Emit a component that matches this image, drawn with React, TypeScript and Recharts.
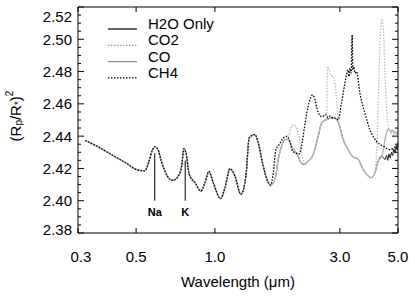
import React from 'react';
import { LineChart, Line, XAxis, YAxis, ReferenceLine, ReferenceDot, Legend } from 'recharts';

const FONT = '"Liberation Sans", Arial, Helvetica, sans-serif';

// Axis tick labels
const xTicks = [0.3, 0.5, 1.0, 3.0, 5.0];
const yMajorTicks = [2.38, 2.4, 2.42, 2.44, 2.46, 2.48, 2.5, 2.52];
const yMinorPerMajor = 4;

// Part of the spectrum shared by every model (microns, (Rp/R*)^2)
const sharedWavelength = [
  0.32, 0.358, 0.402, 0.452, 0.508, 0.539, 0.558, 0.575, 0.588, 0.606, 0.624, 0.658,
  0.689, 0.725, 0.746, 0.7615, 0.775, 0.798, 0.839, 0.884, 0.916, 0.949, 0.985, 1.051,
  1.092, 1.141, 1.192, 1.256, 1.313, 1.352, 1.421, 1.463, 1.529, 1.598, 1.632,
];
const sharedValue = [
  2.4373, 2.4334, 2.4286, 2.4239, 2.419, 2.4185, 2.4236, 2.4307, 2.4334, 2.4317, 2.4245, 2.4153,
  2.4126, 2.4153, 2.4214, 2.4322, 2.4297, 2.4163, 2.4112, 2.406, 2.4112, 2.4181, 2.4112, 2.4013,
  2.408, 2.4198, 2.4153, 2.404, 2.4153, 2.439, 2.441, 2.4359, 2.4214, 2.4112, 2.4097,
];

// H2O-only continuation (also the CO baseline up to 4.33 micron)
const waterWavelength = [
  1.694, 1.745, 1.797, 1.85, 1.905, 1.962, 2.07, 2.142, 2.2, 2.27, 2.372, 2.479, 2.555, 2.669,
  2.75, 2.85, 2.914, 2.98, 3.088, 3.228, 3.342, 3.524, 3.68, 3.846, 3.96, 4.08, 4.2, 4.33,
];
const waterValue = [
  2.4132, 2.4256, 2.4338, 2.4379, 2.4379, 2.4338, 2.428, 2.4231, 2.4225, 2.4245, 2.4286, 2.4399, 2.4482, 2.4502,
  2.451, 2.4515, 2.4502, 2.4472, 2.4379, 2.4317, 2.4276, 2.4256, 2.4194, 2.4153, 2.4143, 2.4173, 2.4245, 2.4276,
];
const h2oTailWavelength = [4.4, 4.46, 4.52, 4.57, 4.62, 4.67, 4.72, 4.77, 4.82, 4.87, 4.92, 4.96, 5.0];
const h2oTailValue = [2.4265, 2.4255, 2.428, 2.425, 2.429, 2.4265, 2.43, 2.428, 2.432, 2.4295, 2.434, 2.4315, 2.436];

const coTailWavelength = [4.4, 4.46, 4.52, 4.58, 4.64, 4.7, 4.76, 4.82, 4.88, 4.94, 5.0];
const coTailValue = [2.432, 2.438, 2.442, 2.4445, 2.444, 2.4425, 2.444, 2.442, 2.443, 2.441, 2.443];

const co2Wavelength = [
  1.694, 1.745, 1.797, 1.85, 1.905, 1.95, 2.0, 2.05, 2.1, 2.142, 2.2, 2.27, 2.372, 2.479, 2.555,
  2.62, 2.669, 2.69, 2.73, 2.78, 2.83, 2.89, 2.93, 2.957, 2.98, 3.088, 3.228, 3.342, 3.524, 3.68,
  3.846, 3.96, 4.08, 4.14, 4.2, 4.27, 4.34, 4.4, 4.46, 4.53, 4.6, 4.7, 4.8, 4.9, 5.0,
];
const co2Value = [
  2.4132, 2.4256, 2.4338, 2.4379, 2.44, 2.445, 2.447, 2.4455, 2.438, 2.43, 2.4235, 2.4245, 2.4286, 2.4399, 2.4482,
  2.45, 2.451, 2.4832, 2.481, 2.4775, 2.477, 2.4688, 2.458, 2.452, 2.4472, 2.4379, 2.4317, 2.4276, 2.4256, 2.4194,
  2.4153, 2.4143, 2.4173, 2.429, 2.458, 2.499, 2.5125, 2.506, 2.478, 2.456, 2.445, 2.442, 2.441, 2.442, 2.441,
];

const ch4Wavelength = [
  1.67, 1.709, 1.76, 1.823, 1.877, 1.933, 1.979, 2.04, 2.1, 2.14, 2.2, 2.23, 2.305, 2.36, 2.41,
  2.45, 2.51, 2.57, 2.64, 2.7, 2.76, 2.83, 2.9, 2.957, 3.044, 3.135, 3.18, 3.228, 3.25, 3.28,
  3.31, 3.342, 3.36, 3.39, 3.42, 3.474, 3.576, 3.737, 3.905, 4.14, 4.39, 4.66, 4.94, 5.0,
];
const ch4Value = [
  2.4173, 2.4317, 2.4348, 2.4389, 2.4399, 2.4368, 2.4307, 2.4295, 2.429, 2.4338, 2.446, 2.452, 2.4626, 2.4655, 2.4626,
  2.4574, 2.453, 2.452, 2.4535, 2.4515, 2.4525, 2.451, 2.4512, 2.4502, 2.4606, 2.4729, 2.478, 2.4811, 2.477, 2.482,
  2.479, 2.5027, 2.481, 2.483, 2.479, 2.48, 2.4667, 2.4544, 2.4441, 2.4368, 2.4338, 2.4317, 2.4338, 2.4345,
];

// Atomic line markers
const markerNames = ['Na', 'K'];
const markerWavelength = [0.589, 0.77];
const markerTop = [2.4294, 2.4249];
const markerBase = 2.4;

const seriesNames = ['H2O Only', 'CO2', 'CO', 'CH4'];

type Pt = { wl: number; v: number };
const toPoints = (wl: number[], val: number[]): Pt[] => wl.map((w, i) => ({ wl: w, v: val[i] }));

const h2oData = toPoints(
  [...sharedWavelength, ...waterWavelength, ...h2oTailWavelength],
  [...sharedValue, ...waterValue, ...h2oTailValue]
);
const coData = toPoints(
  [...sharedWavelength, ...waterWavelength, ...coTailWavelength],
  [...sharedValue, ...waterValue, ...coTailValue]
);
const co2Data = toPoints([...sharedWavelength, ...co2Wavelength], [...sharedValue, ...co2Value]);
const ch4Data = toPoints([...sharedWavelength, ...ch4Wavelength], [...sharedValue, ...ch4Value]);

const yTicks: number[] = [];
for (let i = 0; i < yMajorTicks.length - 1; i++) {
  const a = yMajorTicks[i];
  const b = yMajorTicks[i + 1];
  for (let k = 0; k < yMinorPerMajor; k++) yTicks.push(+(a + ((b - a) * k) / yMinorPerMajor).toFixed(4));
}
yTicks.push(yMajorTicks[yMajorTicks.length - 1]);

const isMajorY = (v: number) => yMajorTicks.some((t) => Math.abs(t - v) < 1e-6);

const styles = {
  h2o: { stroke: '#111111', width: 1, dash: undefined as string | undefined, legendStroke: '#555555', legendWidth: 1.8 },
  co2: { stroke: '#bdbdbd', width: 1.3, dash: '1.5 1.5', legendStroke: '#9a9a9a', legendWidth: 1.2 },
  co: { stroke: '#b4b4b4', width: 1.4, dash: undefined as string | undefined, legendStroke: '#8c8c8c', legendWidth: 1.2 },
  ch4: { stroke: '#000000', width: 1.3, dash: '1.5 1.5', legendStroke: '#000000', legendWidth: 1.2 },
};
const legendStyles = [styles.h2o, styles.co2, styles.co, styles.ch4];

function LeftTick(props: any) {
  const { x, y, payload } = props;
  const v = payload.value as number;
  const major = isMajorY(v);
  let shift = 0;
  if (Math.abs(v - 2.52) < 1e-6) shift = 9.5;
  if (Math.abs(v - 2.38) < 1e-6) shift = -4;
  return (
    <g>
      <line x1={x} x2={x + (major ? 6 : 3)} y1={y} y2={y} stroke="#000" strokeWidth={1} />
      {major && (
        <text x={x - 6} y={y + shift} textAnchor="end" dominantBaseline="central" fontSize={15} fontFamily={FONT} fill="#000">
          {v.toFixed(2)}
        </text>
      )}
    </g>
  );
}

function RightTick(props: any) {
  const { x, y, payload } = props;
  const major = isMajorY(payload.value);
  return <line x1={x} x2={x - (major ? 6 : 3)} y1={y} y2={y} stroke="#000" strokeWidth={1} />;
}

function BottomTick(props: any) {
  const { x, y, payload } = props;
  const v = payload.value as number;
  const dx = Math.abs(v - 0.3) < 1e-6 ? 3 : 0;
  return (
    <g>
      <line x1={x} x2={x} y1={y} y2={y - 5} stroke="#000" strokeWidth={1} />
      <text x={x + dx} y={y + 23} textAnchor="middle" dominantBaseline="central" fontSize={15} fontFamily={FONT} fill="#000">
        {v.toFixed(1)}
      </text>
    </g>
  );
}

function TopTick(props: any) {
  const { x, y } = props;
  return <line x1={x} x2={x} y1={y} y2={y + 5} stroke="#000" strokeWidth={1} />;
}

function YLabel() {
  return (
    <text
      x={15}
      y={116}
      transform="rotate(-90, 15, 116)"
      textAnchor="middle"
      dominantBaseline="central"
      fontSize={15}
      fontFamily={FONT}
      fill="#000"
    >
      (R<tspan fontSize={10} dy={3}>p</tspan>
      <tspan dy={-3}>/R</tspan>
      <tspan fontSize={10} dy={3}>*</tspan>
      <tspan dy={-3}>)</tspan>
      <tspan fontSize={10} dy={-6}>2</tspan>
    </text>
  );
}

function LegendContent() {
  return (
    <svg width={130} height={75} style={{ display: 'block', overflow: 'visible' }}>
      {seriesNames.map((name, i) => {
        const s = legendStyles[i];
        const yy = 19 + i * 16.3;
        return (
          <g key={name}>
            <line x1={8} x2={37} y1={yy} y2={yy} stroke={s.legendStroke} strokeWidth={s.legendWidth} strokeDasharray={s.dash} />
            <text x={48} y={yy} fontSize={15} fontFamily={FONT} fill="#000">
              {name}
            </text>
          </g>
        );
      })}
    </svg>
  );
}

export default function App() {
  return (
    <div style={{ position: 'absolute', left: 0, top: 0, width: 415, height: 301, background: '#fff' }}>
      <LineChart width={415} height={301} margin={{ top: 0, right: 0, bottom: 0, left: 0 }}>
        <XAxis
          dataKey="wl"
          type="number"
          scale="log"
          domain={[0.3, 5]}
          ticks={xTicks}
          interval={0}
          allowDataOverflow
          height={68}
          tickSize={0}
          tickMargin={0}
          tickLine={false}
          axisLine={{ stroke: '#000' }}
          tick={(p: any) => <BottomTick {...p} />}
          label={{ value: 'Wavelength (\u03bcm)', position: 'insideBottom', offset: 14, fontSize: 15, fill: '#000', fontFamily: FONT }}
        />
        <XAxis
          xAxisId="top"
          orientation="top"
          dataKey="wl"
          type="number"
          scale="log"
          domain={[0.3, 5]}
          ticks={xTicks}
          interval={0}
          allowDataOverflow
          height={7}
          tickSize={0}
          tickMargin={0}
          tickLine={false}
          axisLine={{ stroke: '#000' }}
          tick={(p: any) => <TopTick {...p} />}
        />
        <YAxis
          type="number"
          domain={[2.38, 2.52]}
          ticks={yTicks}
          interval={0}
          allowDataOverflow
          width={78}
          tickSize={0}
          tickMargin={0}
          tickLine={false}
          axisLine={{ stroke: '#000' }}
          tick={(p: any) => <LeftTick {...p} />}
          label={{ content: () => <YLabel /> }}
        />
        <YAxis
          yAxisId="right"
          orientation="right"
          type="number"
          domain={[2.38, 2.52]}
          ticks={yTicks}
          interval={0}
          allowDataOverflow
          width={17}
          tickSize={0}
          tickMargin={0}
          tickLine={false}
          axisLine={{ stroke: '#000' }}
          tick={(p: any) => <RightTick {...p} />}
        />
        <Legend
          layout="vertical"
          align="center"
          verticalAlign="middle"
          content={() => <LegendContent />}
          wrapperStyle={{ position: 'absolute', left: 100, top: 10, width: 130, height: 75 }}
        />
        <Line data={h2oData} dataKey="v" name={seriesNames[0]} type="monotone" stroke={styles.h2o.stroke} strokeWidth={styles.h2o.width} dot={false} isAnimationActive={false} />
        <Line data={coData} dataKey="v" name={seriesNames[2]} type="monotone" stroke={styles.co.stroke} strokeWidth={styles.co.width} dot={false} isAnimationActive={false} />
        <Line data={co2Data} dataKey="v" name={seriesNames[1]} type="monotone" stroke={styles.co2.stroke} strokeWidth={styles.co2.width} strokeDasharray={styles.co2.dash} dot={false} isAnimationActive={false} />
        <Line data={ch4Data} dataKey="v" name={seriesNames[3]} type="monotone" stroke={styles.ch4.stroke} strokeWidth={styles.ch4.width} strokeDasharray={styles.ch4.dash} dot={false} isAnimationActive={false} />
        {markerNames.map((name, i) => (
          <ReferenceLine
            key={`line-${name}`}
            segment={[
              { x: markerWavelength[i], y: markerBase },
              { x: markerWavelength[i], y: markerTop[i] },
            ]}
            stroke="#000"
            strokeWidth={1}
          />
        ))}
        {markerNames.map((name, i) => (
          <ReferenceDot
            key={`label-${name}`}
            x={markerWavelength[i]}
            y={markerBase}
            r={0}
            fill="none"
            stroke="none"
            label={{ value: name, position: 'bottom', offset: 7, fontSize: 11, fontWeight: 'bold', fill: '#000', fontFamily: FONT }}
          />
        ))}
      </LineChart>
    </div>
  );
}
